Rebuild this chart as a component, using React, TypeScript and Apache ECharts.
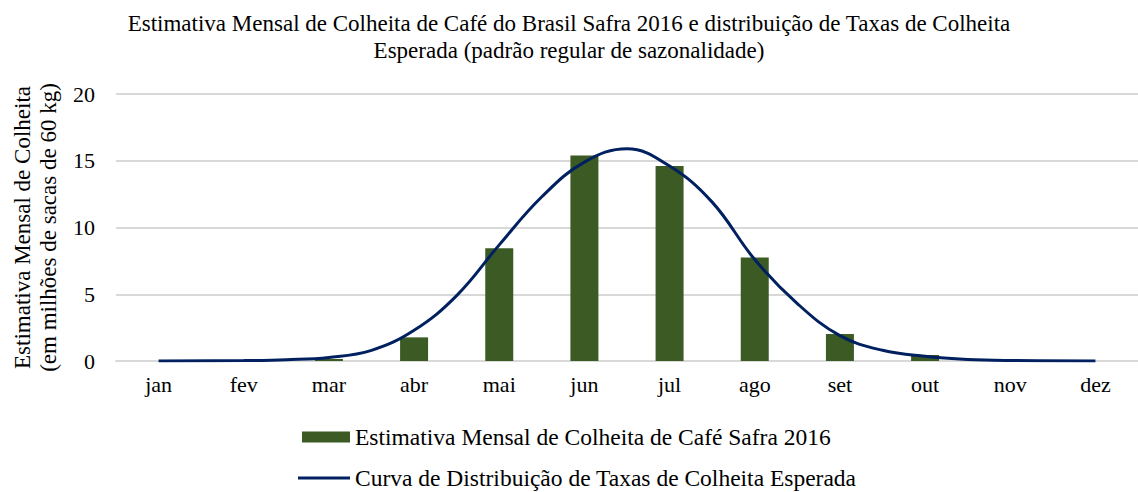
import React, { useEffect, useRef } from "react";
import * as echarts from "echarts";

const titleText =
  "Estimativa Mensal de Colheita de Café do Brasil Safra 2016 e distribuição de Taxas de Colheita\nEsperada (padrão regular de sazonalidade)";
const months = ["jan", "fev", "mar", "abr", "mai", "jun", "jul", "ago", "set", "out", "nov", "dez"];
const barName = "Estimativa Mensal de Colheita de Café Safra 2016";
const barValues = [0, 0, 0.15, 1.77, 8.44, 15.4, 14.6, 7.75, 2.02, 0.45, 0, 0];
const curveName = "Curva de Distribuição de Taxas de Colheita Esperada";
// curve read at half-month positions (month index)
const curveX = [0, 1, 1.5, 2, 2.5, 3, 3.5, 4, 4.5, 5, 5.5, 6, 6.5, 7, 7.5, 8, 8.5, 9, 9.5, 10, 11];
const curveY = [0, 0.03, 0.1, 0.27, 0.8, 2.3, 4.9, 8.7, 12.3, 14.9, 15.9, 14.6, 11.9, 7.6, 4.3, 1.9, 0.8, 0.35, 0.12, 0.04, 0];
const yTicks = { min: 0, max: 20, interval: 5 };
const yName = "Estimativa Mensal de Colheita\n(em milhões de sacas de 60 kg)";

const FONT = "'Liberation Serif', 'Times New Roman', serif";

export default function App() {
  const ref = useRef<HTMLDivElement>(null);
  useEffect(() => {
    if (!ref.current) return;
    const chart = echarts.init(ref.current, undefined, { renderer: "svg" });
    const legendText = { fontFamily: FONT, fontSize: 23.5, color: "#000" };
    chart.setOption({
      animation: false,
      backgroundColor: "#ffffff",
      textStyle: { fontFamily: FONT },
      title: {
        text: titleText,
        left: "center",
        top: 5,
        textStyle: { fontFamily: FONT, fontSize: 23, fontWeight: "normal", color: "#000", lineHeight: 27 },
      },
      legend: [
        {
          orient: "horizontal",
          left: 297,
          top: 420,
          itemWidth: 48,
          itemHeight: 11,
          itemGap: 0,
          textStyle: legendText,
          data: [{ name: barName, icon: "rect" }],
        },
        {
          orient: "horizontal",
          left: 293,
          top: 461,
          itemWidth: 52,
          itemHeight: 3,
          itemGap: 0,
          textStyle: legendText,
          data: [{ name: curveName, icon: "rect", itemStyle: { color: "#002060" } }],
        },
      ],
      grid: { left: 116, right: -12, top: 94, height: 267, containLabel: false },
      xAxis: [
        {
          type: "category",
          data: months,
          boundaryGap: true,
          axisLine: { show: true, lineStyle: { color: "#d9d9d9", width: 2 } },
          axisTick: { show: false },
          axisLabel: { fontFamily: FONT, fontSize: 22, color: "#000", margin: 12 },
        },
        {
          type: "value",
          min: -0.5,
          max: 11.5,
          show: false,
        },
      ],
      yAxis: {
        type: "value",
        ...yTicks,
        name: yName,
        nameLocation: "middle",
        nameGap: 55,
        nameTextStyle: { fontFamily: FONT, fontSize: 23, color: "#000", lineHeight: 26 },
        axisLine: { show: false },
        axisTick: { show: false },
        axisLabel: { fontFamily: FONT, fontSize: 22, color: "#000", margin: 21 },
        splitLine: { lineStyle: { color: "#d9d9d9", width: 2 } },
      },
      series: [
        {
          name: barName,
          type: "bar",
          xAxisIndex: 0,
          data: barValues,
          barWidth: 28,
          itemStyle: { color: "#3b5a24" },
        },
        {
          name: curveName,
          type: "line",
          xAxisIndex: 1,
          data: curveX.map((x, i) => [x, curveY[i]]),
          smooth: 0.4,
          symbol: "none",
          lineStyle: { color: "#002060", width: 3 },
          itemStyle: { color: "#002060" },
        },
      ],
    });
    return () => chart.dispose();
  }, []);
  return <div ref={ref} style={{ width: 1138, height: 492, position: "absolute", left: 0, top: 0 }} />;
}
